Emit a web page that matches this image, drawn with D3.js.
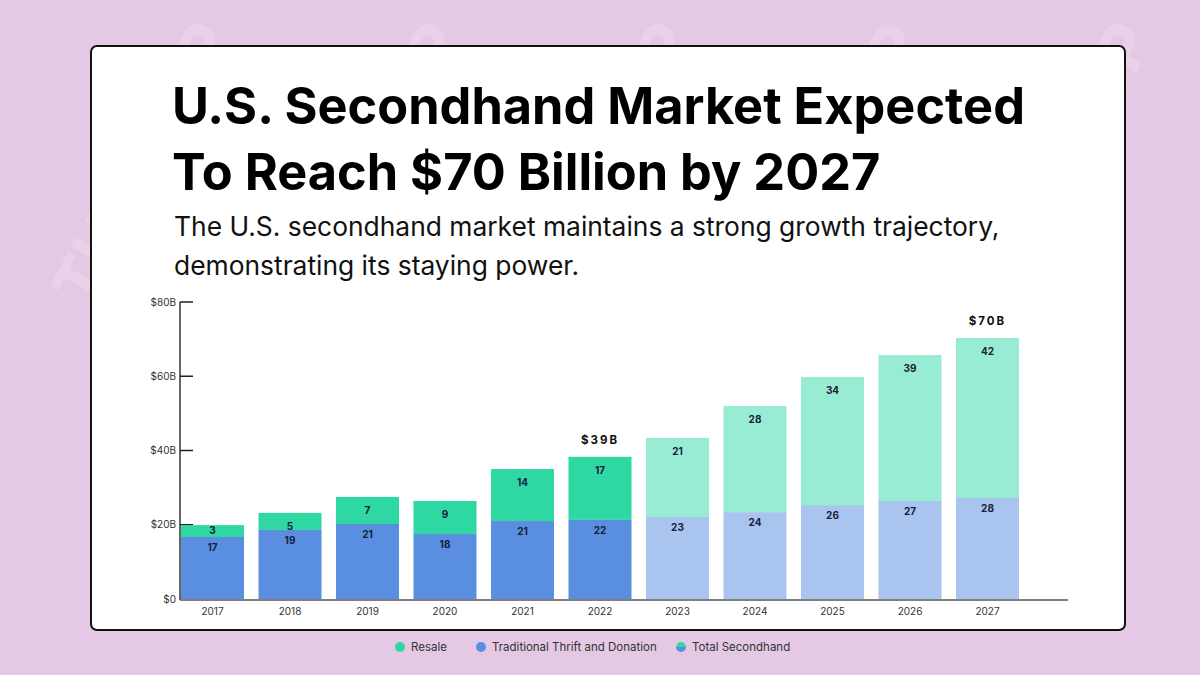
<!DOCTYPE html>
<html>
<head>
<meta charset="utf-8">
<script src="https://cdn.jsdelivr.net/npm/d3@7"></script>
<style>
  html, body { margin: 0; padding: 0; background: #e5c9e4; }
  svg { display: block; font-family: Inter, "Open Sans", sans-serif; }
</style>
</head>
<body>
<div id="plot"></div>
<script>
// data (US$ billions)
var years = ["2017", "2018", "2019", "2020", "2021", "2022", "2023", "2024", "2025", "2026", "2027"];
var thrift = [16.7, 18.6, 20.2, 17.5, 21.0, 21.3, 22.1, 23.4, 25.3, 26.4, 27.2];
var resale = [3.2, 4.6, 7.3, 8.9, 14.0, 17.0, 21.3, 28.6, 34.5, 39.3, 43.1];
var thriftLabels = [17, 19, 21, 18, 21, 22, 23, 24, 26, 27, 28];
var resaleLabels = [3, 5, 7, 9, 14, 17, 21, 28, 34, 39, 42];
var projected = [false, false, false, false, false, false, true, true, true, true, true];
var yTicks = [0, 20, 40, 60, 80];
var callouts = [{ year: "2022", text: "$39B" }, { year: "2027", text: "$70B" }];
var legendItems = ["Resale", "Traditional Thrift and Donation", "Total Secondhand"];

var colors = {
    resale: "#2fd8a2", resaleProj: "#98ecd4",
    thrift: "#5a8ee0", thriftProj: "#a9c4ef"
};

var svg = d3.select("#plot")
            .append("svg")
            .attr("width", 1200)
            .attr("height", 675);

// watermark - keep only the copies that sit fully inside the frame
var wm = svg.append("g").attr("fill", "#ffffff").attr("fill-opacity", 0.18)
            .style("font-weight", 800).style("font-size", "64px");
for (var r = -2; r < 6; r++) {
    for (var c = -1; c < 8; c++) {
        var t = wm.append("text")
          .attr("transform", "translate(" + (c * 230 + r * 90) + "," + (r * 190 + 120) + ") rotate(-62)")
          .text("THREDUP");
        var b = t.node().getBoundingClientRect();
        if (b.left < 1 || b.top < 1 || b.right > 1199 || b.bottom > 674) t.remove();
    }
}

// card
svg.append("rect")
   .attr("x", 91).attr("y", 46)
   .attr("width", 1034).attr("height", 584)
   .attr("rx", 6)
   .attr("fill", "#ffffff")
   .attr("stroke", "#111")
   .attr("stroke-width", 2);

// title
var title = svg.append("g");
["U.S. Secondhand Market Expected", "To Reach $70 Billion by 2027"].forEach(function(t, i){
    title.append("text")
         .attr("x", 172).attr("y", 124 + i * 66)
         .style("font-weight", 700)
         .style("font-size", "48px")
         .attr("fill", "#000")
         .text(t);
});
var tw = title.select("text").node().getComputedTextLength();
title.selectAll("text").style("font-size", (48 * 853 / tw) + "px");

var sub = svg.append("g");
["The U.S. secondhand market maintains a strong growth trajectory,",
 "demonstrating its staying power."].forEach(function(t, i){
    sub.append("text")
       .attr("x", 174).attr("y", 236 + i * 39)
       .style("font-size", "24px")
       .attr("fill", "#111")
       .text(t);
});
var sw = sub.select("text").node().getComputedTextLength();
sub.selectAll("text").style("font-size", (24 * 826 / sw) + "px");

// scales
var xScale = d3.scaleBand()
               .domain(years)
               .range([181, 1019])
               .paddingInner(0.187)
               .paddingOuter(0);
var yScale = d3.scaleLinear()
               .domain([0, 80])
               .range([599, 302]);

// axes
var g_y = svg.append("g").attr("transform", "translate(180,0)");
g_y.append("line")
   .attr("x1", 0).attr("x2", 0)
   .attr("y1", yScale(80)).attr("y2", yScale(0) + 1)
   .attr("stroke", "#333").attr("stroke-width", 1.5);
g_y.selectAll(".tick")
   .data(yTicks.slice(1))
   .enter().append("line")
   .attr("x1", 0).attr("x2", 13)
   .attr("y1", function(d){ return yScale(d); })
   .attr("y2", function(d){ return yScale(d); })
   .attr("stroke", "#222").attr("stroke-width", 1.5);
g_y.selectAll(".ylab")
   .data(yTicks)
   .enter().append("text")
   .attr("x", -4)
   .attr("y", function(d){ return yScale(d); })
   .attr("dy", "0.35em")
   .attr("text-anchor", "end")
   .style("font-size", "10px")
   .attr("fill", "#333")
   .text(function(d){ return d === 0 ? "$0" : "$" + d + "B"; });

svg.append("line")
   .attr("x1", 180).attr("x2", 1068)
   .attr("y1", 600).attr("y2", 600)
   .attr("stroke", "#555").attr("stroke-width", 1.5);

svg.selectAll(".xlab")
   .data(years)
   .enter().append("text")
   .attr("x", function(d){ return xScale(d) + xScale.bandwidth() / 2; })
   .attr("y", 615)
   .attr("text-anchor", "middle")
   .style("font-size", "10px")
   .attr("fill", "#333")
   .text(function(d){ return d; });

// bars
var g_bars = svg.append("g");
g_bars.selectAll(".thrift_rect")
   .data(years)
   .enter().append("rect")
   .attr("x", function(d){ return xScale(d); })
   .attr("y", function(d, i){ return yScale(thrift[i]); })
   .attr("width", xScale.bandwidth())
   .attr("height", function(d, i){ return yScale(0) - yScale(thrift[i]); })
   .attr("fill", function(d, i){ return projected[i] ? colors.thriftProj : colors.thrift; });
g_bars.selectAll(".resale_rect")
   .data(years)
   .enter().append("rect")
   .attr("x", function(d){ return xScale(d); })
   .attr("y", function(d, i){ return yScale(thrift[i] + resale[i]); })
   .attr("width", xScale.bandwidth())
   .attr("height", function(d, i){ return yScale(thrift[i]) - yScale(thrift[i] + resale[i]); })
   .attr("fill", function(d, i){ return projected[i] ? colors.resaleProj : colors.resale; });

g_bars.selectAll(".thrift_lab")
   .data(years)
   .enter().append("text")
   .attr("x", function(d){ return xScale(d) + xScale.bandwidth() / 2; })
   .attr("y", function(d, i){ return yScale(thrift[i]) + 14; })
   .attr("text-anchor", "middle")
   .style("font-size", "10px").style("font-weight", 700)
   .attr("fill", "#18203a")
   .text(function(d, i){ return thriftLabels[i]; });
g_bars.selectAll(".resale_lab")
   .data(years)
   .enter().append("text")
   .attr("x", function(d){ return xScale(d) + xScale.bandwidth() / 2; })
   .attr("y", function(d, i){ return yScale(thrift[i] + resale[i]) + (resale[i] < 4 ? 9 : 17); })
   .attr("text-anchor", "middle")
   .style("font-size", "10px").style("font-weight", 700)
   .attr("fill", "#18203a")
   .text(function(d, i){ return resaleLabels[i]; });

// totals called out
svg.selectAll(".callout")
   .data(callouts)
   .enter().append("text")
   .attr("x", function(d){ return xScale(d.year) + xScale.bandwidth() / 2; })
   .attr("y", function(d){
       var i = years.indexOf(d.year);
       return yScale(thrift[i] + resale[i]) - 13;
   })
   .attr("text-anchor", "middle")
   .style("font-size", "11.5px").style("font-weight", 700)
   .style("letter-spacing", "2px")
   .attr("fill", "#111")
   .text(function(d){ return d.text; });

// legend
var legendX = [400, 481, 681];
var g_leg = svg.append("g");
legendItems.forEach(function(name, i){
    var cx = legendX[i], cy = 647;
    if (i === 2) {
        g_leg.append("path")
             .attr("d", d3.arc()({ innerRadius: 0, outerRadius: 5, startAngle: -Math.PI / 2, endAngle: Math.PI / 2 }))
             .attr("transform", "translate(" + cx + "," + cy + ")")
             .attr("fill", colors.resale);
        g_leg.append("path")
             .attr("d", d3.arc()({ innerRadius: 0, outerRadius: 5, startAngle: Math.PI / 2, endAngle: 3 * Math.PI / 2 }))
             .attr("transform", "translate(" + cx + "," + cy + ")")
             .attr("fill", colors.thrift);
    } else {
        g_leg.append("circle")
             .attr("cx", cx).attr("cy", cy).attr("r", 5)
             .attr("fill", i === 0 ? colors.resale : colors.thrift);
    }
    g_leg.append("text")
         .attr("x", cx + 11).attr("y", cy)
         .attr("dy", "0.35em")
         .style("font-size", "11.5px")
         .attr("fill", "#333")
         .text(name);
});
</script>
</body>
</html>
